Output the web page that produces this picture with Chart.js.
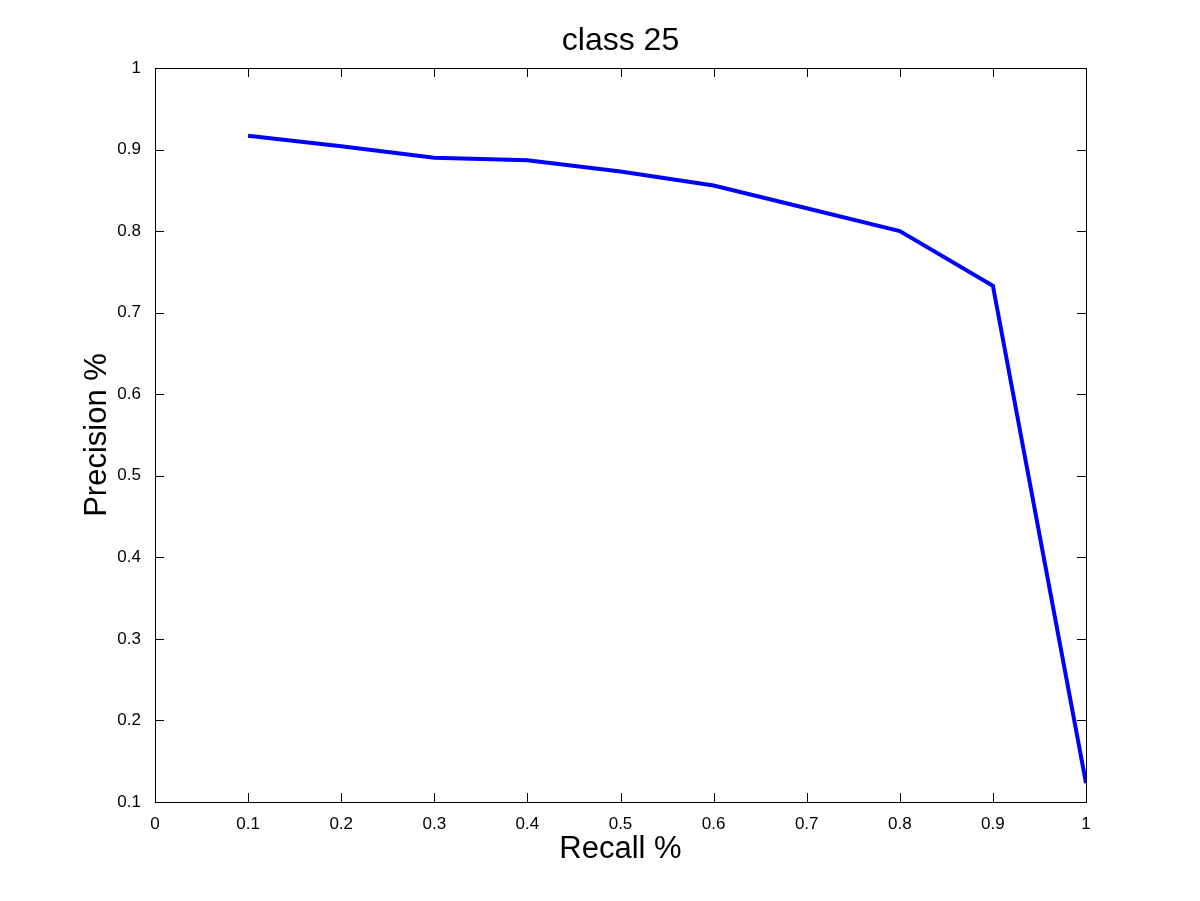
<!DOCTYPE html>
<html>
<head>
<meta charset="utf-8">
<script src="https://cdn.jsdelivr.net/npm/chart.js@4/dist/chart.umd.min.js"></script>
<style>
  html, body { margin: 0; padding: 0; background: #fff; }
  #wrap { width: 1200px; height: 901px; }
</style>
</head>
<body>
<div id="wrap"><canvas id="prChart" width="1200" height="901"></canvas></div>
<script>
// recall / precision points
const recall = [0.1, 0.2, 0.3, 0.4, 0.5, 0.6, 0.7, 0.8, 0.9, 1.0];
const precision = [0.917, 0.904, 0.890, 0.887, 0.873, 0.856, 0.828, 0.800, 0.733, 0.123];
const xTicks = [0, 0.1, 0.2, 0.3, 0.4, 0.5, 0.6, 0.7, 0.8, 0.9, 1];
const yTicks = [0.1, 0.2, 0.3, 0.4, 0.5, 0.6, 0.7, 0.8, 0.9, 1];
const chartTitle = 'class 25';

const FONT = "'Liberation Sans', Arial, Helvetica, sans-serif";

// matlab style box with inward ticks on all four sides, title centred on the axes
const boxPlugin = {
    id: 'matlabBox',
    afterDraw(chart) {
        const { ctx, chartArea: a, scales } = chart;
        const len = 9;
        ctx.save();
        ctx.strokeStyle = '#000';
        ctx.lineWidth = 1;
        ctx.beginPath();
        xTicks.forEach(v => {
            const x = Math.round(scales.x.getPixelForValue(v)) + 0.5;
            ctx.moveTo(x, a.bottom); ctx.lineTo(x, a.bottom - len);
            ctx.moveTo(x, a.top); ctx.lineTo(x, a.top + len);
        });
        yTicks.forEach(v => {
            const y = Math.round(scales.y.getPixelForValue(v)) + 0.5;
            ctx.moveTo(a.left, y); ctx.lineTo(a.left + len, y);
            ctx.moveTo(a.right, y); ctx.lineTo(a.right - len, y);
        });
        ctx.stroke();
        ctx.strokeRect(Math.round(a.left) + 0.5, Math.round(a.top) + 0.5,
            Math.round(a.right - a.left), Math.round(a.bottom - a.top));

        ctx.fillStyle = '#000';
        ctx.font = '32px ' + FONT;
        ctx.textAlign = 'center';
        ctx.textBaseline = 'alphabetic';
        ctx.fillText(chartTitle, (a.left + a.right) / 2, 50);
        ctx.restore();
    }
};

new Chart(document.getElementById('prChart').getContext('2d'), {
    type: 'line',
    data: {
        labels: recall,
        datasets: [{
            data: recall.map((r, i) => ({ x: r, y: precision[i] })),
            borderColor: '#0000ff',
            borderWidth: 4,
            pointRadius: 0,
            tension: 0,
            fill: false
        }]
    },
    options: {
        responsive: false,
        animation: false,
        layout: { padding: { left: 0, top: 68, right: 114, bottom: 0 } },
        plugins: {
            legend: { display: false },
            tooltip: { enabled: false },
            title: { display: false }
        },
        scales: {
            x: {
                type: 'linear',
                min: 0, max: 1,
                grid: { display: false },
                border: { display: false },
                afterBuildTicks: s => { s.ticks = xTicks.map(v => ({ value: v })); },
                afterFit: s => { s.height = 99; },
                ticks: {
                    color: '#000',
                    padding: 4,
                    maxRotation: 0,
                    autoSkip: false,
                    font: { family: FONT, size: 17 },
                    callback: v => String(v)
                },
                title: {
                    display: true,
                    text: 'Recall %',
                    color: '#000',
                    font: { family: FONT, size: 31, lineHeight: 1.2 },
                    padding: { top: 0, bottom: 33 }
                }
            },
            y: {
                type: 'linear',
                min: 0.1, max: 1,
                grid: { display: false },
                border: { display: false },
                afterBuildTicks: s => { s.ticks = yTicks.map(v => ({ value: v })); },
                afterFit: s => { s.width = 155; },
                ticks: {
                    color: '#000',
                    padding: 6,
                    autoSkip: false,
                    font: { family: FONT, size: 17 },
                    callback: v => String(v)
                },
                title: {
                    display: true,
                    text: 'Precision %',
                    color: '#000',
                    font: { family: FONT, size: 31, lineHeight: 1.2 },
                    padding: { top: 79, bottom: 0 }
                }
            }
        }
    },
    plugins: [boxPlugin]
});
</script>
</body>
</html>
